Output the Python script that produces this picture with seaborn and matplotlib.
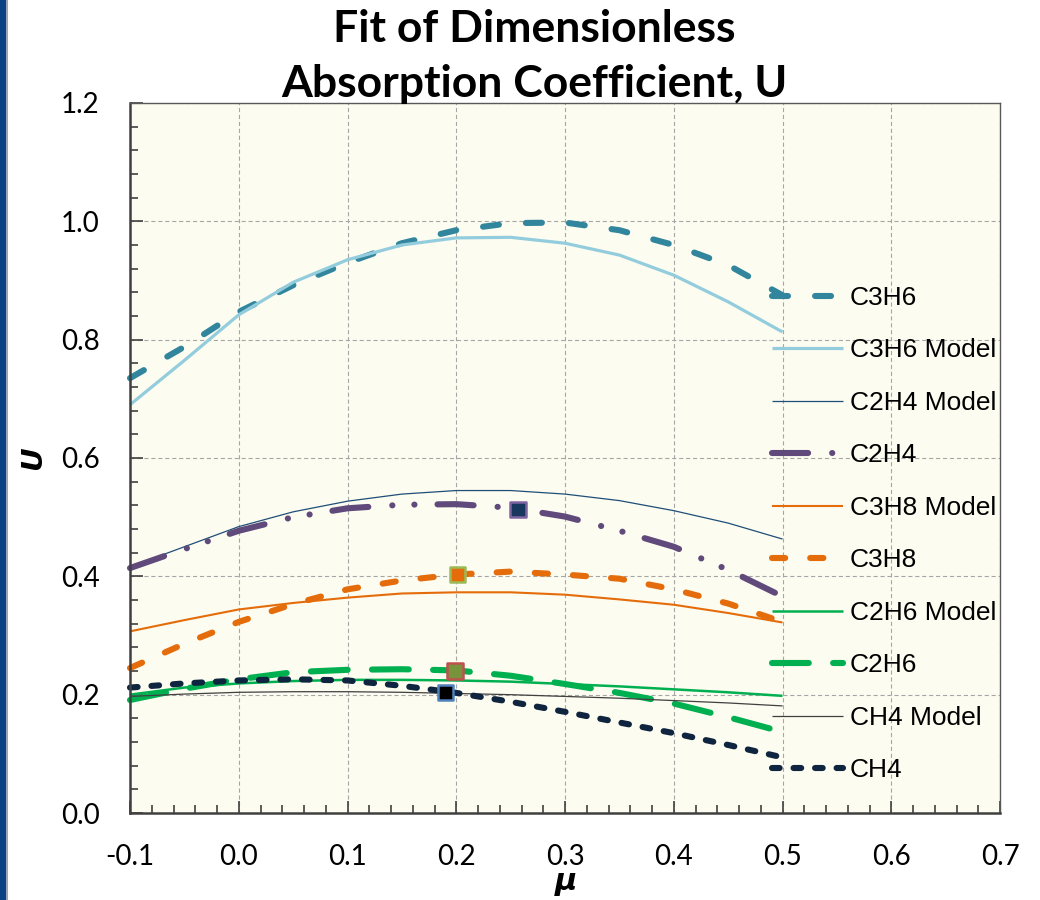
import matplotlib
matplotlib.use("Agg")
import matplotlib.pyplot as plt
from matplotlib.lines import Line2D
from matplotlib.patches import Rectangle
from matplotlib.ticker import MultipleLocator, FormatStrFormatter
import seaborn as sns

# ---- data -----------------------------------------------------------------
mu = [-0.10, -0.05, 0.00, 0.05, 0.10, 0.15, 0.20, 0.25, 0.30, 0.35, 0.40, 0.45, 0.50]

c3h6 = [0.735, 0.788, 0.847, 0.892, 0.930, 0.963, 0.985, 0.997, 0.998, 0.985, 0.960, 0.926, 0.875]
c3h6_model = [0.690, 0.765, 0.842, 0.897, 0.935, 0.960, 0.972, 0.973, 0.963, 0.943, 0.909, 0.864, 0.813]
c2h4_model = [0.416, 0.450, 0.484, 0.509, 0.527, 0.539, 0.545, 0.545, 0.539, 0.528, 0.511, 0.490, 0.463]
c2h4 = [0.414, 0.446, 0.477, 0.500, 0.515, 0.521, 0.522, 0.516, 0.501, 0.477, 0.450, 0.411, 0.366]
c3h8_model = [0.307, 0.326, 0.344, 0.355, 0.364, 0.371, 0.373, 0.373, 0.369, 0.361, 0.352, 0.338, 0.322]
c3h8 = [0.245, 0.286, 0.323, 0.353, 0.378, 0.393, 0.403, 0.408, 0.403, 0.396, 0.378, 0.354, 0.323]
c2h6_model = [0.200, 0.212, 0.219, 0.223, 0.225, 0.225, 0.224, 0.222, 0.218, 0.214, 0.209, 0.204, 0.198]
c2h6 = [0.191, 0.210, 0.226, 0.238, 0.242, 0.243, 0.241, 0.232, 0.218, 0.203, 0.185, 0.162, 0.137]
ch4_model = [0.197, 0.201, 0.204, 0.205, 0.205, 0.204, 0.202, 0.200, 0.197, 0.194, 0.190, 0.186, 0.181]
ch4 = [0.212, 0.219, 0.224, 0.226, 0.224, 0.215, 0.203, 0.188, 0.171, 0.153, 0.135, 0.115, 0.094]

# highlighted points (mu, U)
pt_mu = [0.257, 0.201, 0.199, 0.190]
pt_u = [0.513, 0.403, 0.240, 0.204]
pt_face = ["#17375E", "#E46C0A", "#77933C", "#000000"]
pt_edge = ["#8064A2", "#9BBB59", "#C0504D", "#4F81BD"]

x_ticks = [-0.1, 0.0, 0.1, 0.2, 0.3, 0.4, 0.5, 0.6, 0.7]
y_ticks = [0.0, 0.2, 0.4, 0.6, 0.8, 1.0, 1.2]

# ---- style ----------------------------------------------------------------
sns.set_theme(style="white")
plt.rcParams["font.family"] = ["Lato", "DejaVu Sans"]
plt.rcParams["text.color"] = "black"
plt.rcParams["axes.unicode_minus"] = False
plt.rcParams["lines.scale_dashes"] = False

fig = plt.figure(figsize=(10.4, 9.0), dpi=100)
fig.patch.set_facecolor("white")
ax = fig.add_axes([130 / 1040, 1 - 813 / 900, 870 / 1040, 710 / 900])
ax.set_facecolor("#FCFCF0")

# (label, values, color, linewidth, linestyle)
series = [
    ("C3H6", c3h6, "#31859C", 4.4, (0, (11.5, 19.5))),
    ("C3H6 Model", c3h6_model, "#93CDDD", 2.3, "-"),
    ("C2H4 Model", c2h4_model, "#1F4E79", 0.9, "-"),
    ("C2H4", c2h4, "#604A7B", 4.4, (0, (26.0, 17.3, 0.1, 15.8, 0.1, 16.6))),
    ("C3H8 Model", c3h8_model, "#E46C0A", 1.5, "-"),
    ("C3H8", c3h8, "#E46C0A", 4.4, (0, (9.5, 18.0))),
    ("C2H6 Model", c2h6_model, "#00B050", 1.8, "-"),
    ("C2H6", c2h6, "#00B050", 4.4, (0, (26.5, 17.5))),
    ("CH4 Model", ch4_model, "#404040", 0.9, "-"),
    ("CH4", ch4, "#0F243E", 4.4, (0, (5.5, 10.0))),
]

handles = []
for label, vals, color, lw, ls in series:
    sns.lineplot(x=mu, y=vals, ax=ax, color=color, linewidth=lw,
                 linestyle=ls, legend=False, solid_capstyle="butt",
                 solid_joinstyle="round", dash_capstyle="round",
                 dash_joinstyle="round", clip_on=False)
    handles.append(Line2D([], [], color=color, linewidth=lw, linestyle=ls,
                          dash_capstyle="round", solid_capstyle="butt"))

sns.scatterplot(x=pt_mu, y=pt_u, ax=ax, marker="s", s=125,
                c=pt_face, edgecolor=pt_edge, linewidth=1.8,
                legend=False, zorder=5)

# ---- axes -----------------------------------------------------------------
ax.set_xlim(-0.1, 0.7)
ax.set_ylim(0.0, 1.2)
ax.set_xticks(x_ticks)
ax.set_yticks(y_ticks)
ax.xaxis.set_minor_locator(MultipleLocator(0.02))
ax.yaxis.set_minor_locator(MultipleLocator(0.04))
ax.xaxis.set_major_formatter(FormatStrFormatter("%.1f"))
ax.yaxis.set_major_formatter(FormatStrFormatter("%.1f"))
ax.tick_params(which="both", direction="in", color="#404040", width=1.2)
ax.tick_params(which="major", length=9, labelsize=20, labelcolor="black")
ax.tick_params(axis="x", which="major", pad=22)
ax.tick_params(axis="y", which="major", pad=22)
ax.tick_params(which="minor", length=6)
ax.tick_params(which="both", bottom=True, left=True, top=False, right=False)

ax.grid(True, which="major", color="#A6A6A6", linestyle=(0, (3, 2)), linewidth=0.8)
ax.set_axisbelow(True)
for side in ["left", "bottom"]:
    ax.spines[side].set_color("#404040")
    ax.spines[side].set_linewidth(1.8)
for side in ["top", "right"]:
    ax.spines[side].set_color("#595959")
    ax.spines[side].set_linewidth(1.0)

ax.set_xlabel("")
ax.set_ylabel("")

leg = ax.legend(handles, [s[0] for s in series], loc="center left",
                bbox_to_anchor=(772 / 1040, 1 - 534 / 900),
                bbox_transform=fig.transFigure, frameon=False,
                handlelength=2.7, handletextpad=0.25,
                labelspacing=1.08, borderpad=0.0, borderaxespad=0.0,
                prop={"family": ["Liberation Sans"], "size": 19})
for t in leg.get_texts():
    t.set_color("black")

# ---- titles and axis labels -------------------------------------------------
fig.text(534 / 1040, 1 - 42 / 900, "Fit of Dimensionless", ha="center",
         va="baseline", fontsize=32, fontweight="bold", color="black")
fig.text(534 / 1040, 1 - 97 / 900, "Absorption Coefficient, U", ha="center",
         va="baseline", fontsize=32, fontweight="bold", color="black")
fig.text(33 / 1040, 1 - 458 / 900, "U", rotation=90, ha="center", va="center",
         fontsize=21, fontweight="bold", fontstyle="italic",
         family=["DejaVu Sans"], color="black")
fig.text(566 / 1040, 1 - 890 / 900, "\u03bc", ha="center", va="baseline",
         fontsize=22, fontweight="bold", fontstyle="italic",
         family=["DejaVu Sans"], color="black")

# slide accent bar along the left edge
fig.patches.append(Rectangle((0, 0), 6 / 1040, 1, transform=fig.transFigure,
                             facecolor="#0B4284", edgecolor="none", zorder=10))
fig.patches.append(Rectangle((6 / 1040, 0), 1.5 / 1040, 1, transform=fig.transFigure,
                             facecolor="#9AA6B8", edgecolor="none", zorder=10))

fig.savefig("out.png", dpi=100)
